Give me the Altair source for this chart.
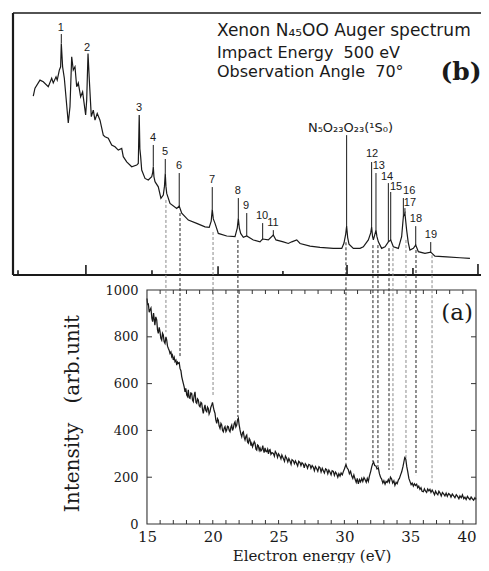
import altair as alt
import pandas as pd

# ---------------- panel (a): measured spectrum (intensity, arb. unit) ----------------
a_energy = [
    15.0, 15.06, 15.1, 15.17, 15.23, 15.3, 15.37, 15.43, 15.5, 15.56,
    15.6, 15.67, 15.74, 15.8, 15.86, 15.93, 15.99, 16.05, 16.12, 16.18,
    16.24, 16.3, 16.37, 16.44, 16.5, 16.56, 16.62, 16.7, 16.75, 16.82,
    16.88, 16.94, 17.0, 17.07, 17.13, 17.2, 17.26, 17.32, 17.38, 17.45,
    17.51, 17.58, 17.64, 17.7, 17.76, 17.83, 17.89, 17.95, 18.02, 18.08,
    18.14, 18.2, 18.27, 18.33, 18.4, 18.46, 18.52, 18.58, 18.65, 18.72,
    18.78, 18.84, 18.9, 18.97, 19.03, 19.1, 19.16, 19.22, 19.28, 19.35,
    19.41, 19.47, 19.54, 19.6, 19.66, 19.72, 19.79, 19.85, 19.92, 19.98,
    20.04, 20.1, 20.17, 20.23, 20.3, 20.36, 20.42, 20.48, 20.55, 20.62,
    20.68, 20.74, 20.8, 20.87, 20.93, 21.0, 21.06, 21.12, 21.18, 21.25,
    21.31, 21.38, 21.44, 21.5, 21.56, 21.63, 21.69, 21.75, 21.82, 21.88,
    21.94, 22.0, 22.07, 22.13, 22.2, 22.26, 22.32, 22.39, 22.45, 22.52,
    22.58, 22.64, 22.7, 22.77, 22.83, 22.9, 22.96, 23.02, 23.08, 23.15,
    23.21, 23.28, 23.34, 23.4, 23.46, 23.53, 23.59, 23.66, 23.72, 23.8,
    23.84, 23.9, 23.97, 24.04, 24.1, 24.17, 24.23, 24.3, 24.35, 24.42,
    24.5, 24.6, 24.68, 24.75, 24.85, 24.92, 25.0, 25.1, 25.18, 25.25,
    25.36, 25.45, 25.52, 25.61, 25.7, 25.78, 25.87, 25.95, 26.02, 26.12,
    26.2, 26.28, 26.37, 26.45, 26.53, 26.63, 26.7, 26.78, 26.88, 26.95,
    27.03, 27.13, 27.2, 27.3, 27.39, 27.46, 27.55, 27.64, 27.72, 27.8,
    27.9, 27.98, 28.07, 28.15, 28.23, 28.32, 28.4, 28.48, 28.57, 28.65,
    28.74, 28.82, 28.9, 28.99, 29.07, 29.16, 29.24, 29.33, 29.41, 29.5,
    29.58, 29.67, 29.75, 29.84, 29.92, 30.0, 30.08, 30.12, 30.2, 30.3,
    30.38, 30.47, 30.56, 30.64, 30.72, 30.81, 30.9, 30.98, 31.06, 31.15,
    31.23, 31.32, 31.4, 31.49, 31.57, 31.66, 31.74, 31.82, 31.9, 32.0,
    32.08, 32.15, 32.22, 32.3, 32.4, 32.48, 32.58, 32.66, 32.75, 32.83,
    32.92, 33.0, 33.09, 33.17, 33.25, 33.34, 33.42, 33.5, 33.59, 33.67,
    33.76, 33.84, 33.93, 34.01, 34.1, 34.18, 34.27, 34.35, 34.45, 34.52,
    34.6, 34.67, 34.74, 34.81, 34.9, 34.98, 35.07, 35.15, 35.24, 35.32,
    35.4, 35.49, 35.57, 35.65, 35.74, 35.82, 35.9, 36.0, 36.08, 36.17,
    36.25, 36.33, 36.42, 36.5, 36.58, 36.67, 36.76, 36.85, 36.93, 37.01,
    37.1, 37.18, 37.27, 37.36, 37.45, 37.55, 37.64, 37.73, 37.82, 37.92,
    38.02, 38.1, 38.2, 38.3, 38.4, 38.5, 38.6, 38.7, 38.78, 38.88,
    38.97, 39.07, 39.16, 39.25, 39.35, 39.45, 39.54, 39.63, 39.72, 39.82,
    39.92, 40.0,
]
a_intensity = [
    964, 935, 943, 905, 915, 923, 880, 865, 901, 870,
    850, 885, 872, 830, 815, 840, 822, 795, 786, 815,
    808, 780, 772, 800, 786, 760, 751, 740, 729, 735,
    715, 722, 701, 712, 694, 700, 679, 692, 687, 690,
    665, 655, 630, 615, 601, 585, 565, 580, 551, 545,
    573, 540, 537, 560, 558, 530, 523, 548, 565, 520,
    516, 535, 530, 505, 501, 520, 516, 490, 473, 495,
    509, 485, 480, 500, 494, 470, 480, 498, 509, 520,
    501, 485, 473, 445, 430, 450, 444, 420, 409, 430,
    423, 400, 394, 410, 416, 395, 402, 418, 416, 400,
    394, 415, 423, 400, 409, 430, 437, 415, 423, 445,
    452, 425, 402, 385, 373, 390, 394, 370, 359, 375,
    380, 350, 345, 365, 359, 335, 345, 330, 340, 352,
    345, 320, 316, 338, 335, 315, 325, 312, 316, 335,
    320, 305, 325, 310, 309, 320, 300, 316, 318, 298,
    305, 302, 290, 310, 300, 285, 300, 290, 278, 295,
    280, 268, 290, 281, 265, 280, 268, 255, 275, 270,
    258, 270, 259, 248, 268, 262, 250, 262, 255, 240,
    258, 250, 238, 255, 252, 238, 250, 242, 228, 245,
    236, 225, 245, 240, 222, 238, 228, 218, 236, 232,
    215, 230, 222, 210, 228, 225, 208, 222, 215, 200,
    215, 205, 218, 210, 224, 235, 248, 255, 240, 232,
    215, 225, 205, 195, 210, 192, 178, 195, 172, 190,
    180, 195, 182, 198, 190, 178, 195, 182, 205, 225,
    245, 258, 265, 250, 248, 235, 240, 215, 200, 192,
    175, 185, 170, 182, 178, 190, 178, 200, 192, 175,
    185, 165, 178, 172, 188, 195, 210, 222, 245, 265,
    288, 275, 245, 225, 195, 182, 168, 175, 162, 172,
    165, 170, 155, 162, 148, 155, 140, 138, 150, 140,
    135, 150, 142, 148, 135, 145, 136, 125, 140, 131,
    125, 140, 132, 120, 135, 128, 120, 132, 118, 130,
    125, 115, 128, 120, 112, 125, 118, 108, 120, 112,
    125, 108, 115, 105, 118, 110, 104, 115, 108, 102,
    112, 105,
]

# ---------------- panel (b): reference spectrum (its own arb. units) ----------------
b_energy = [
    6.36, 6.49, 6.87, 7.12, 7.5, 7.76, 7.88, 8.09, 8.18, 8.34,
    8.44, 8.49, 8.59, 8.72, 9.02, 9.15, 9.28, 9.4, 9.53, 9.66,
    9.78, 9.96, 10.11, 10.34, 10.42, 10.52, 10.62, 10.77, 10.92, 11.05,
    11.22, 11.43, 11.68, 11.81, 12.06, 12.32, 12.57, 12.82, 13.08, 13.2,
    13.46, 13.84, 14.22, 14.34, 14.41, 14.46, 14.52, 14.6, 14.85, 15.1,
    15.36, 15.44, 15.48, 15.53, 15.61, 15.86, 16.06, 16.24, 16.33, 16.39,
    16.44, 16.5, 16.75, 17.26, 17.45, 17.64, 18.14, 18.78, 19.41, 19.73,
    19.88, 19.96, 20.04, 20.17, 20.42, 21.06, 21.69, 21.86, 21.94, 22.02,
    22.12, 22.32, 22.58, 23.08, 23.59, 23.72, 23.79, 24.22, 24.6, 24.8,
    25.36, 25.74, 26.0, 26.38, 26.63, 27.39, 28.15, 29.16, 29.8, 29.97,
    30.1, 30.17, 30.25, 30.35, 30.68, 31.19, 31.44, 31.82, 32.0, 32.07,
    32.14, 32.2, 32.27, 32.4, 32.47, 32.58, 32.83, 33.09, 33.34, 33.52,
    33.72, 34.1, 34.35, 34.42, 34.48, 34.6, 34.73, 34.85, 34.98, 35.24,
    35.42, 35.62, 36.12, 36.56, 36.88, 37.77, 38.78, 39.54,
]
b_intensity = [
    765, 799, 833, 826, 805, 841, 821, 847, 833, 876,
    890, 990, 890, 841, 650, 719, 933, 876, 890, 805,
    821, 762, 783, 684, 748, 947, 833, 677, 705, 662,
    691, 662, 598, 591, 585, 556, 548, 534, 541, 506,
    484, 463, 470, 477, 684, 540, 506, 449, 413, 406,
    420, 440, 463, 420, 399, 377, 328, 342, 380, 435,
    380, 349, 306, 285, 295, 264, 235, 221, 206, 204,
    230, 281, 240, 221, 178, 167, 164, 200, 242, 200,
    178, 161, 167, 150, 142, 150, 154, 150, 171, 150,
    142, 135, 142, 150, 135, 124, 118, 114, 114, 137,
    175, 209, 160, 132, 114, 114, 121, 150, 180, 205,
    165, 150, 164, 192, 165, 142, 114, 121, 142, 150,
    121, 114, 164, 210, 249, 264, 192, 140, 107, 114,
    128, 100, 93, 98, 81, 78, 74, 71,
]

# peak numbers of panel (b)
peak_names = ["1", "2", "3", "4", "5", "6", "7", "8", "9", "10",
              "11", "12", "13", "14", "15", "16", "17", "18", "19"]
peak_label_energy = [8.46, 10.44, 14.39, 15.46, 16.37, 17.43, 19.94, 21.91, 22.52, 23.74,
                     24.57, 32.1, 32.62, 33.24, 33.93, 34.92, 34.98, 35.44, 36.58]
peak_label_level = [1056, 970, 714, 585, 526, 466, 406, 359, 295, 252,
                    222, 517, 466, 419, 376, 359, 306, 239, 171]

# thin marker lines from the numbers down to the peaks (panel (b) units)
marker_energy = [8.49, 15.48, 16.39, 17.45, 19.96, 21.94, 22.58, 23.79, 24.6,
                 30.17, 32.07, 32.4, 33.34, 33.52, 34.48, 34.6, 35.42, 36.56]
marker_top = [1030, 556, 496, 436, 376, 329, 265, 222, 192,
              598, 483, 436, 393, 355, 329, 286, 209, 141]
marker_bottom = [990, 463, 435, 295, 281, 242, 167, 154, 171,
                 209, 205, 192, 142, 150, 249, 264, 128, 98]

# dashed correspondence lines between the two spectra
link_energy = [16.44, 17.51, 20.02, 21.91, 30.12, 32.17, 32.55, 33.39, 33.69, 34.68, 35.44, 36.66]
link_b_level = [321, 265, 184, 150, 140, 128, 128, 115, 115, 150, 107, 85]
link_a_level = [820, 714, 547, 457, 273, 265, 244, 231, 231, 282, 209, 175]
link_tone = ["light", "dark", "light", "dark", "dark", "dark", "dark", "dark",
             "light", "light", "dark", "light"]

# axis ticks / labels
x_tick_labels = [15, 20, 25, 30, 35, 40]
x_minor_ticks = list(range(16, 40))
y_tick_labels = [0, 200, 400, 600, 800, 1000]
y_inner_ticks = [200, 400, 600, 800]
b_tick_energy = [5.2, 10.36, 15.38, 20.4, 25.33, 30.2, 35.21, 40.15]
b_tick_length = [21, 43, 21, 38, 17, 43, 30, 47]

header_lines = ["Xenon N\u2084\u2085OO Auger spectrum",
                "Impact Energy\u00a0\u00a0500\u00a0eV",
                "Observation Angle\u00a0\u00a070\u00b0"]
header_level = [1021, 927, 846]
header_size = [17, 16, 16]
special_label = "N\u2085O\u2082\u2083O\u2082\u2083(\u00b9S\u2080)"

# ---------------- layout constants ----------------
X_DOMAIN = [4.82, 40.38]      # whole figure width in eV
Y_TOP = 2184                  # whole figure height in panel (a) units
B_OFFSET = 1064               # baseline of panel (b) in the shared vertical scale
A_X = [15, 40]
A_Y = [0, 1000]
TICK_V = 17                   # ~4 px
TICK_H = 0.38                 # ~5 px
INK = "#1a1a1a"

xs = alt.Scale(domain=X_DOMAIN, nice=False, zero=False)
ys = alt.Scale(domain=[0, Y_TOP], nice=False, zero=False)

x_axis = alt.Axis(values=x_tick_labels, domain=False, ticks=False, grid=False,
                  labelFont="DejaVu Serif", labelFontSize=15, labelColor=INK,
                  labelPadding=5, format="d",
                  labelAlign={"expr": "datum.value >= 40 ? 'right' : 'center'"},
                  title="Electron energy (eV)", titleFont="DejaVu Serif",
                  titleFontSize=15, titleFontWeight="normal", titleColor=INK,
                  titleX=298.5, titleY=31, titleBaseline="middle")
y_axis = alt.Axis(values=y_tick_labels, offset=-134, domain=False, ticks=False,
                  grid=False, labelFont="DejaVu Serif", labelFontSize=13,
                  labelColor=INK, labelPadding=9, format="d",
                  title="Intensity\u00a0\u00a0\u00a0(arb.unit", titleFont="DejaVu Serif",
                  titleFontSize=20, titleFontWeight="normal", titleColor=INK,
                  titleX=-75, titleY=400, titleBaseline="middle")


def X(f):
    return alt.X(f"{f}:Q", scale=xs, axis=x_axis)


def Y(f):
    return alt.Y(f"{f}:Q", scale=ys, axis=y_axis)


# data frames
a_df = pd.DataFrame({"e": a_energy, "v": a_intensity})
b_df = pd.DataFrame({"e": b_energy, "v": [v + B_OFFSET for v in b_intensity]})
lab_df = pd.DataFrame({"e": peak_label_energy,
                       "v": [v + B_OFFSET for v in peak_label_level],
                       "t": peak_names})
mark_df = pd.DataFrame({"e": marker_energy,
                        "v": [v + B_OFFSET for v in marker_top],
                        "v2": [v + B_OFFSET for v in marker_bottom]})
link_df = pd.DataFrame({"e": link_energy,
                        "v": [v + B_OFFSET for v in link_b_level],
                        "v2": link_a_level,
                        "tone": link_tone})

a_line = alt.Chart(a_df).mark_line(color=INK, strokeWidth=1.25).encode(x=X("e"), y=Y("v"))

a_frame = alt.Chart(pd.DataFrame({"e": [A_X[0]], "e2": [A_X[1]],
                                  "v": [A_Y[0]], "v2": [A_Y[1]]})).mark_rect(
    fillOpacity=0, stroke="#333", strokeWidth=1.1).encode(
    x=X("e"), x2="e2", y=Y("v"), y2="v2")

bot_ticks = alt.Chart(pd.DataFrame({"e": x_minor_ticks})).transform_calculate(
    v=str(A_Y[0]), v2=str(A_Y[0] + TICK_V)).mark_rule(color="#333", strokeWidth=1).encode(
    x=X("e"), y=Y("v"), y2="v2")
top_ticks = alt.Chart(pd.DataFrame({"e": x_minor_ticks})).transform_calculate(
    v=str(A_Y[1]), v2=str(A_Y[1] - TICK_V)).mark_rule(color="#333", strokeWidth=1).encode(
    x=X("e"), y=Y("v"), y2="v2")
left_ticks = alt.Chart(pd.DataFrame({"v": y_inner_ticks})).transform_calculate(
    e=str(A_X[0]), e2=str(A_X[0] + TICK_H)).mark_rule(color="#333", strokeWidth=1).encode(
    x=X("e"), x2="e2", y=Y("v"))
right_ticks = alt.Chart(pd.DataFrame({"v": y_inner_ticks})).transform_calculate(
    e=str(A_X[1]), e2=str(A_X[1] - TICK_H)).mark_rule(color="#333", strokeWidth=1).encode(
    x=X("e"), x2="e2", y=Y("v"))

# panel (b) frame: bottom axis line, top border, left border
b_frame = alt.Chart(pd.DataFrame({
    "e": [X_DOMAIN[0], X_DOMAIN[0], X_DOMAIN[0]],
    "e2": [X_DOMAIN[1], X_DOMAIN[1], X_DOMAIN[0]],
    "v": [B_OFFSET, Y_TOP, B_OFFSET],
    "v2": [B_OFFSET, Y_TOP, Y_TOP],
    "w": [2.0, 1.5, 2.2],
})).mark_rule(color=INK).encode(
    x=X("e"), x2="e2", y=Y("v"), y2="v2",
    strokeWidth=alt.StrokeWidth("w:Q", scale=None, legend=None))

b_ticks = alt.Chart(pd.DataFrame({"e": b_tick_energy, "len": b_tick_length})).transform_calculate(
    v=str(B_OFFSET), v2=f"{B_OFFSET} + datum.len").mark_rule(color=INK, strokeWidth=1.6).encode(
    x=X("e"), y=Y("v"), y2="v2")

b_line = alt.Chart(b_df).mark_line(color=INK, strokeWidth=1.2).encode(x=X("e"), y=Y("v"))

markers = alt.Chart(mark_df).mark_rule(color=INK, strokeWidth=1).encode(
    x=X("e"), y=Y("v"), y2="v2")

links = alt.Chart(link_df).mark_rule(strokeWidth=1, strokeDash=[3, 2]).encode(
    x=X("e"), y=Y("v"), y2="v2",
    color=alt.Color("tone:N", scale=alt.Scale(domain=["dark", "light"],
                                               range=["#222222", "#8a8a8a"]), legend=None))

labels = alt.Chart(lab_df).mark_text(font="Liberation Sans", fontSize=11, color=INK,
                                     baseline="middle", align="center").encode(
    x=X("e"), y=Y("v"), text="t:N")

special = alt.Chart(pd.DataFrame({"e": [30.46], "v": [628 + B_OFFSET], "t": [special_label]})).mark_text(
    font="DejaVu Sans", fontSize=13, color=INK, baseline="middle", align="center").encode(
    x=X("e"), y=Y("v"), text="t:N")

header = alt.Chart(pd.DataFrame({"e": [20.32] * 3,
                                 "v": [v + B_OFFSET for v in header_level],
                                 "t": header_lines,
                                 "s": header_size})).mark_text(
    font="DejaVu Sans", color=INK, align="left", baseline="alphabetic").encode(
    x=X("e"), y=Y("v"), text="t:N", size=alt.Size("s:Q", scale=None, legend=None))

tag_b = alt.Chart(pd.DataFrame({"e": [38.86], "v": [868 + B_OFFSET], "t": ["(b)"]})).mark_text(
    font="DejaVu Serif", fontSize=25, fontWeight="bold", color=INK,
    align="center", baseline="middle").encode(x=X("e"), y=Y("v"), text="t:N")
tag_a = alt.Chart(pd.DataFrame({"e": [38.56], "v": [902], "t": ["(a)"]})).mark_text(
    font="DejaVu Serif", fontSize=23, color=INK,
    align="center", baseline="middle").encode(x=X("e"), y=Y("v"), text="t:N")

chart = alt.layer(
    a_line, a_frame, bot_ticks, top_ticks, left_ticks, right_ticks,
    b_frame, b_ticks, links, markers, b_line, labels, special, header, tag_b, tag_a,
).properties(
    width=468, height=511, background="white",
    autosize=alt.AutoSizeParams(type="none"),
    padding={"left": 5, "top": 5, "right": 0, "bottom": 39},
).configure_view(strokeWidth=0)

chart.save("out.html", embed_options={"renderer": "svg", "actions": False})
